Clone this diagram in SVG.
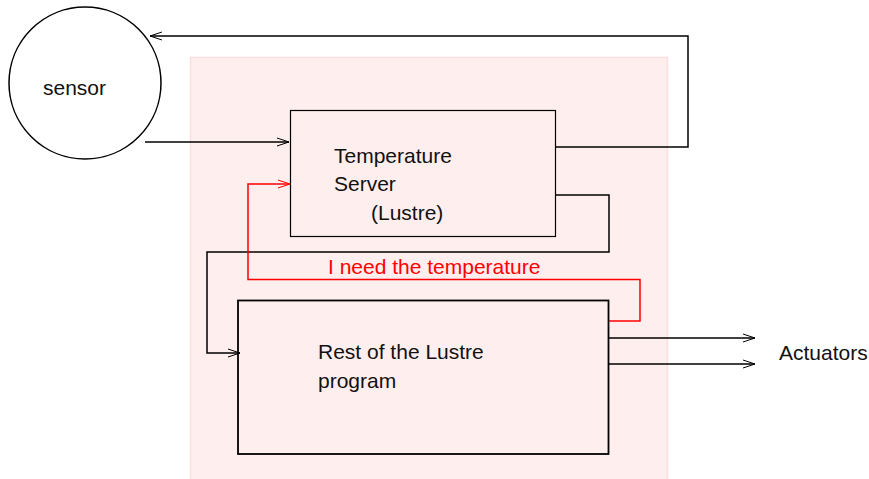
<svg xmlns="http://www.w3.org/2000/svg" width="869" height="479" viewBox="0 0 869 479">
  <style>
    text { font-family: "Liberation Sans", Arial, sans-serif; font-size: 21px; fill: #111; }
    .wire { fill: none; stroke: #000; stroke-width: 1.5; }
    .req { fill: none; stroke: #ff0000; stroke-width: 1.5; }
    .box { fill: none; stroke: #000; }
  </style>
  <defs>
    <marker id="arrow" markerWidth="14" markerHeight="10" refX="13" refY="5" orient="auto" markerUnits="userSpaceOnUse">
      <path d="M1,1 L13,5 L1,9" fill="none" stroke="#000" stroke-width="1"/>
    </marker>
    <marker id="arrow-red" markerWidth="14" markerHeight="10" refX="13" refY="5" orient="auto" markerUnits="userSpaceOnUse">
      <path d="M1,1 L13,5 L1,9" fill="none" stroke="#ff0000" stroke-width="1"/>
    </marker>
  </defs>

  <!-- shaded area around the Lustre program -->
  <rect id="lustre-area" x="190.5" y="57.5" width="477" height="430" fill="#ffeeee" stroke="#ffdede" stroke-width="1.5"/>

  <g id="sensor">
    <circle cx="85" cy="83" r="76" fill="#fff" stroke="#000" stroke-width="1.5"/>
    <text x="43" y="95">sensor</text>
  </g>

  <g id="temperature-server">
    <rect x="290.5" y="110.5" width="265" height="126" class="box" stroke="#555" stroke-width="1.2"/>
    <text x="334" y="163">Temperature</text>
    <text x="334" y="191">Server</text>
    <text x="371" y="220">(Lustre)</text>
  </g>

  <g id="rest-of-program">
    <rect x="238" y="300.5" width="370.5" height="153.5" class="box" stroke-width="1.8"/>
    <text x="318" y="359">Rest of the Lustre</text>
    <text x="318" y="388">program</text>
  </g>

  <g id="actuators">
    <text x="779" y="360">Actuators</text>
  </g>

  <g id="connectors">
    <!-- sensor reading into the server -->
    <path class="wire" d="M145,142 L289,142" marker-end="url(#arrow)"/>
    <!-- server feedback to the sensor -->
    <path class="wire" d="M556,147 L688,147 L688,36 L150,36" marker-end="url(#arrow)"/>
    <!-- server output to the rest of the program -->
    <path class="wire" d="M556,195 L609,195 L609,252 L207,252 L207,353 L240,353" marker-end="url(#arrow)"/>
    <!-- request for the temperature -->
    <path class="req" d="M609,321 L640,321 L640,279.5 L248,279.5 L248,184 L290,184" marker-end="url(#arrow-red)"/>
    <!-- outputs to the actuators -->
    <path class="wire" d="M609,338 L755,338" marker-end="url(#arrow)"/>
    <path class="wire" d="M609,364 L755,364" marker-end="url(#arrow)"/>
  </g>

  <text x="328" y="274" style="fill:#ff0000">I need the temperature</text>
</svg>
